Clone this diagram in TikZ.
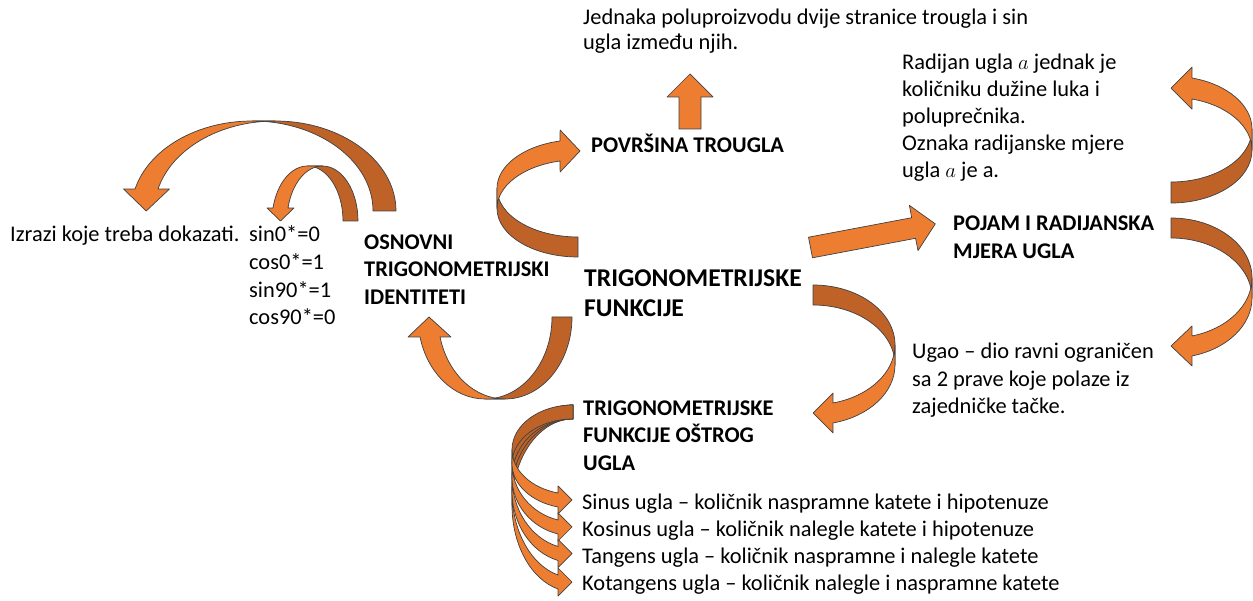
\documentclass[tikz,border=0pt]{standalone}
\usepackage{fontspec}
\setmainfont{Carlito}
\definecolor{orangefront}{RGB}{237,125,49}
\definecolor{orangeback}{RGB}{190,98,40}
\begin{document}
\begin{tikzpicture}[x=1pt,y=-1pt,
  backface/.style={fill=orangeback, draw=black!75, line width=.7pt, line join=round},
  frontface/.style={fill=orangefront, draw=black!75, line width=.7pt, line join=round},
  txt/.style={anchor=base west, inner sep=0, align=left, font=\fontsize{22.4}{27.3}\selectfont},
  hdr/.style={txt, font=\fontsize{22.4}{27.5}\selectfont\bfseries}]
\useasboundingbox (0,0) rectangle (1253,601);

\begin{scope}[shift={(578,188.4)}, x radius=81, y radius=48.6]
\filldraw[backface] (90:81 and 48.6) arc[start angle=90, end angle=180] -- ([shift={(0,20)}]180:81 and 48.6) arc[start angle=180, end angle=90] -- cycle;
\filldraw[frontface] (180:81 and 48.6) arc[start angle=180, end angle=257.2] -- (-17.9,-58.4) -- (2,-37.4) -- (-17.9,-16.4) -- ([shift={(0,20)}]257.2:81 and 48.6) arc[start angle=257.2, end angle=180] -- cycle;
\end{scope}

\begin{scope}[shift={(485,317)}, x radius=67, y radius=82]
\filldraw[backface] (0:67 and 82) arc[start angle=0, end angle=90] -- ([shift={(20,0)}]90:67 and 82) arc[start angle=90, end angle=0] -- cycle;
\filldraw[frontface] (90:67 and 82) arc[start angle=90, end angle=165.9] -- (-77,20) -- (-56,0) -- (-34,20) -- ([shift={(20,0)}]165.9:67 and 82) arc[start angle=165.9, end angle=90] -- cycle;
\end{scope}

\begin{scope}[shift={(252.2,211)}, x radius=120.8, y radius=90]
\filldraw[backface] (0:120.8 and 90) arc[start angle=0, end angle=-90] -- ([shift={(23,0)}]-90:120.8 and 90) arc[start angle=-90, end angle=0] -- cycle;
\filldraw[frontface] (-90:120.8 and 90) arc[start angle=-90, end angle=-165.9] -- (-128.7,-22) -- (-106,0) -- (-82.7,-22) -- ([shift={(23,0)}]-165.9:120.8 and 90) arc[start angle=-165.9, end angle=-90] -- cycle;
\end{scope}

\begin{scope}[shift={(307.5,221)}, x radius=35.5, y radius=55]
\filldraw[backface] (0:35.5 and 55) arc[start angle=0, end angle=-90] -- ([shift={(15,0)}]-90:35.5 and 55) arc[start angle=-90, end angle=0] -- cycle;
\filldraw[frontface] (-90:35.5 and 55) arc[start angle=-90, end angle=-166.35] -- (-40.5,-13) -- (-27,0) -- (-13.5,-13) -- ([shift={(15,0)}]-166.35:35.5 and 55) arc[start angle=-166.35, end angle=-90] -- cycle;
\end{scope}

\begin{scope}[shift={(1171,129.1)}, x radius=81, y radius=52.9]
\filldraw[backface] (90:81 and 52.9) arc[start angle=90, end angle=0] -- ([shift={(0,21)}]0:81 and 52.9) arc[start angle=0, end angle=90] -- cycle;
\filldraw[frontface] (0:81 and 52.9) arc[start angle=0, end angle=-75] -- (21,-62) -- (0,-41) -- (21,-20) -- ([shift={(0,21)}]-75:81 and 52.9) arc[start angle=-75, end angle=0] -- cycle;
\end{scope}

\begin{scope}[shift={(1171,278)}, x radius=81, y radius=60]
\filldraw[backface] (-90:81 and 60) arc[start angle=-90, end angle=0] -- ([shift={(0,20)}]0:81 and 60) arc[start angle=0, end angle=-90] -- cycle;
\filldraw[frontface] (0:81 and 60) arc[start angle=0, end angle=75] -- (21,48) -- (0,68) -- (21,88) -- ([shift={(0,20)}]75:81 and 60) arc[start angle=75, end angle=0] -- cycle;
\end{scope}

\begin{scope}[shift={(813,344.9)}, x radius=82, y radius=59.9]
\filldraw[backface] (-90:82 and 59.9) arc[start angle=-90, end angle=0] -- ([shift={(0,20)}]0:82 and 59.9) arc[start angle=0, end angle=-90] -- cycle;
\filldraw[frontface] (0:82 and 59.9) arc[start angle=0, end angle=75.9] -- (20,48.1) -- (0,68.1) -- (20,88.1) -- ([shift={(0,20)}]75.9:82 and 59.9) arc[start angle=75.9, end angle=0] -- cycle;
\end{scope}

\begin{scope}[shift={(573,491.32)}, x radius=61, y radius=86.32]
\filldraw[backface] (-90:61 and 86.32) arc[start angle=-90, end angle=-180] -- ([shift={(0,14)}]-180:61 and 86.32) arc[start angle=-180, end angle=-90] -- cycle;
\filldraw[frontface] (-180:61 and 86.32) arc[start angle=-180, end angle=-255.8] -- (-15,76.68) -- (-1,90.68) -- (-15,104.68) -- ([shift={(0,14)}]-255.8:61 and 86.32) arc[start angle=-255.8, end angle=-180] -- cycle;
\end{scope}
\begin{scope}[shift={(573,476.85)}, x radius=61, y radius=71.85]
\filldraw[backface] (-90:61 and 71.85) arc[start angle=-90, end angle=-180] -- ([shift={(0,14)}]-180:61 and 71.85) arc[start angle=-180, end angle=-90] -- cycle;
\filldraw[frontface] (-180:61 and 71.85) arc[start angle=-180, end angle=-255.8] -- (-15,62.65) -- (-1,76.65) -- (-15,90.65) -- ([shift={(0,14)}]-255.8:61 and 71.85) arc[start angle=-255.8, end angle=-180] -- cycle;
\end{scope}
\begin{scope}[shift={(573,463.39)}, x radius=61, y radius=58.39]
\filldraw[backface] (-90:61 and 58.39) arc[start angle=-90, end angle=-180] -- ([shift={(0,14)}]-180:61 and 58.39) arc[start angle=-180, end angle=-90] -- cycle;
\filldraw[frontface] (-180:61 and 58.39) arc[start angle=-180, end angle=-255.8] -- (-15,49.6) -- (-1,63.6) -- (-15,77.6) -- ([shift={(0,14)}]-255.8:61 and 58.39) arc[start angle=-255.8, end angle=-180] -- cycle;
\end{scope}
\begin{scope}[shift={(573,449.68)}, x radius=61, y radius=44.68]
\filldraw[backface] (-90:61 and 44.68) arc[start angle=-90, end angle=-180] -- ([shift={(0,14)}]-180:61 and 44.68) arc[start angle=-180, end angle=-90] -- cycle;
\filldraw[frontface] (-180:61 and 44.68) arc[start angle=-180, end angle=-255.8] -- (-15,36.3) -- (-1,50.3) -- (-15,64.3) -- ([shift={(0,14)}]-255.8:61 and 44.68) arc[start angle=-255.8, end angle=-180] -- cycle;
\end{scope}

\filldraw[frontface] (808.5,237.2) -- (911.7,217.7) -- (909.4,205.4) -- (935.3,223.9) -- (918,250.6) -- (915.6,238.3) -- (812.5,257.8) -- cycle;
\filldraw[frontface] (679,129) -- (679,97) -- (667,97) -- (690,74) -- (713,97) -- (701,97) -- (701,129) -- cycle;

\node[txt] (izr) at (10,241.7) {Izrazi koje treba dokazati.};
\node[txt, font=\fontsize{22.4}{27.7}\selectfont] (sinv) at (249,324.8) {sin0*=0\\cos0*=1\\sin90*=1\\cos90*=0};
\node[hdr] (osn) at (364,304.3) {OSNOVNI\\TRIGONOMETRIJSKI\\IDENTITETI};
\node[hdr, font=\fontsize{25.6}{30}\selectfont\bfseries] (trig) at (584,316.7) {TRIGONOMETRIJSKE\\FUNKCIJE};
\node[hdr] (pov) at (591,153) {POVRŠINA TROUGLA};
\node[txt, font=\fontsize{22.4}{24.5}\selectfont] (jed) at (583,49.5) {Jednaka poluproizvodu dvije stranice trougla i sin\\ugla između njih.};
\node[txt, font=\fontsize{22.4}{27}\selectfont] (rad) at (902,178) {Radijan ugla $a$ jednak je\\količniku dužine luka i\\poluprečnika.\\Oznaka radijanske mjere\\ugla $a$ je a.};
\node[hdr] (poj) at (953,258.2) {POJAM I RADIJANSKA\\MJERA UGLA};
\node[txt] (ugao) at (912,413.6) {Ugao – dio ravni ograničen\\sa 2 prave koje polaze iz\\zajedničke tačke.};
\node[hdr] (ostr) at (583,470) {TRIGONOMETRIJSKE\\FUNKCIJE OŠTROG\\UGLA};
\node[txt, font=\fontsize{22.4}{27}\selectfont] (fun) at (582,590.3) {Sinus ugla – količnik naspramne katete i hipotenuze\\Kosinus ugla – količnik nalegle katete i hipotenuze\\Tangens ugla – količnik naspramne i nalegle katete\\Kotangens ugla – količnik nalegle i naspramne katete};
\end{tikzpicture}
\end{document}
